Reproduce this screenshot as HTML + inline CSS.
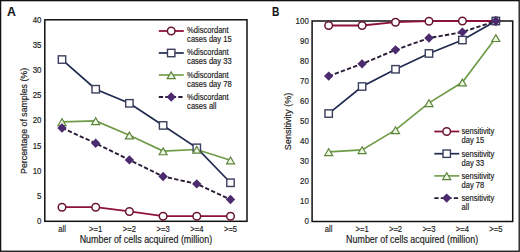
<!DOCTYPE html>
<html><head><meta charset="utf-8"><style>
html,body{margin:0;padding:0;background:#fff;}
svg{display:block;}
</style></head><body>
<svg width="520" height="252" viewBox="0 0 520 252">
<rect x="0" y="0" width="520" height="252" fill="#fff"/>
<rect x="0.6" y="0.65" width="518.6" height="250.6" fill="none" stroke="#111" stroke-width="1.3"/>
<text transform="translate(7.00,15.60)" font-size="12.3" font-weight="bold" fill="#111" font-family="Liberation Sans, sans-serif">A</text>
<text transform="translate(272.00,15.60) scale(0.85,1)" font-size="12.0" font-weight="bold" fill="#111" font-family="Liberation Sans, sans-serif">B</text>
<rect x="44.80" y="19.80" width="202.20" height="201.50" fill="none" stroke="#111" stroke-width="1.5"/>
<polyline points="62.00,207.22 95.70,207.22 129.40,211.44 163.10,216.22 196.80,216.22 230.50,216.22" fill="none" stroke="#8e1238" stroke-width="1.8"/>
<polyline points="62.00,121.91 95.70,120.90 129.40,135.24 163.10,151.08 196.80,149.57 230.50,160.14" fill="none" stroke="#6d9a45" stroke-width="1.6"/>
<polyline points="62.00,59.54 95.70,89.21 129.40,103.30 163.10,125.43 196.80,147.81 230.50,182.77" fill="none" stroke="#1f2a4e" stroke-width="1.7"/>
<polyline points="62.00,127.95 95.70,143.29 129.40,159.89 163.10,176.48 196.80,183.88 230.50,199.57" fill="none" stroke="#2a1b38" stroke-width="1.9" stroke-dasharray="4.3,2.2"/>
<circle cx="62.00" cy="207.22" r="3.8" fill="#fff" stroke="#6a1530" stroke-width="1.5"/>
<circle cx="95.70" cy="207.22" r="3.8" fill="#fff" stroke="#6a1530" stroke-width="1.5"/>
<circle cx="129.40" cy="211.44" r="3.8" fill="#fff" stroke="#6a1530" stroke-width="1.5"/>
<circle cx="163.10" cy="216.22" r="3.8" fill="#fff" stroke="#6a1530" stroke-width="1.5"/>
<circle cx="196.80" cy="216.22" r="3.8" fill="#fff" stroke="#6a1530" stroke-width="1.5"/>
<circle cx="230.50" cy="216.22" r="3.8" fill="#fff" stroke="#6a1530" stroke-width="1.5"/>
<rect x="58.30" y="55.84" width="7.40" height="7.40" fill="#fff" stroke="#3a3f5e" stroke-width="1.4"/>
<rect x="92.00" y="85.51" width="7.40" height="7.40" fill="#fff" stroke="#3a3f5e" stroke-width="1.4"/>
<rect x="125.70" y="99.60" width="7.40" height="7.40" fill="#fff" stroke="#3a3f5e" stroke-width="1.4"/>
<rect x="159.40" y="121.73" width="7.40" height="7.40" fill="#fff" stroke="#3a3f5e" stroke-width="1.4"/>
<rect x="193.10" y="144.11" width="7.40" height="7.40" fill="#fff" stroke="#3a3f5e" stroke-width="1.4"/>
<rect x="226.80" y="179.07" width="7.40" height="7.40" fill="#fff" stroke="#3a3f5e" stroke-width="1.4"/>
<polygon points="62.00,118.76 58.00,125.56 66.00,125.56" fill="#eef7e2" stroke="#5b833b" stroke-width="1.2"/>
<polygon points="95.70,117.75 91.70,124.55 99.70,124.55" fill="#eef7e2" stroke="#5b833b" stroke-width="1.2"/>
<polygon points="129.40,132.09 125.40,138.89 133.40,138.89" fill="#eef7e2" stroke="#5b833b" stroke-width="1.2"/>
<polygon points="163.10,147.93 159.10,154.73 167.10,154.73" fill="#eef7e2" stroke="#5b833b" stroke-width="1.2"/>
<polygon points="196.80,146.42 192.80,153.22 200.80,153.22" fill="#eef7e2" stroke="#5b833b" stroke-width="1.2"/>
<polygon points="230.50,156.99 226.50,163.79 234.50,163.79" fill="#eef7e2" stroke="#5b833b" stroke-width="1.2"/>
<polygon points="62.00,123.25 66.70,127.95 62.00,132.65 57.30,127.95" fill="#4b2a6e"/>
<polygon points="95.70,138.59 100.40,143.29 95.70,147.99 91.00,143.29" fill="#4b2a6e"/>
<polygon points="129.40,155.19 134.10,159.89 129.40,164.59 124.70,159.89" fill="#4b2a6e"/>
<polygon points="163.10,171.78 167.80,176.48 163.10,181.18 158.40,176.48" fill="#4b2a6e"/>
<polygon points="196.80,179.18 201.50,183.88 196.80,188.58 192.10,183.88" fill="#4b2a6e"/>
<polygon points="230.50,194.87 235.20,199.57 230.50,204.27 225.80,199.57" fill="#4b2a6e"/>
<text transform="translate(41.50,223.95) scale(0.89,1)" font-size="8.9" text-anchor="end" fill="#222" font-family="Liberation Sans, sans-serif" stroke="#222" stroke-width="0.18">0</text>
<text transform="translate(41.50,198.80) scale(0.89,1)" font-size="8.9" text-anchor="end" fill="#222" font-family="Liberation Sans, sans-serif" stroke="#222" stroke-width="0.18">5</text>
<text transform="translate(41.50,173.65) scale(0.89,1)" font-size="8.9" text-anchor="end" fill="#222" font-family="Liberation Sans, sans-serif" stroke="#222" stroke-width="0.18">10</text>
<text transform="translate(41.50,148.50) scale(0.89,1)" font-size="8.9" text-anchor="end" fill="#222" font-family="Liberation Sans, sans-serif" stroke="#222" stroke-width="0.18">15</text>
<text transform="translate(41.50,123.35) scale(0.89,1)" font-size="8.9" text-anchor="end" fill="#222" font-family="Liberation Sans, sans-serif" stroke="#222" stroke-width="0.18">20</text>
<text transform="translate(41.50,98.20) scale(0.89,1)" font-size="8.9" text-anchor="end" fill="#222" font-family="Liberation Sans, sans-serif" stroke="#222" stroke-width="0.18">25</text>
<text transform="translate(41.50,73.05) scale(0.89,1)" font-size="8.9" text-anchor="end" fill="#222" font-family="Liberation Sans, sans-serif" stroke="#222" stroke-width="0.18">30</text>
<text transform="translate(41.50,47.90) scale(0.89,1)" font-size="8.9" text-anchor="end" fill="#222" font-family="Liberation Sans, sans-serif" stroke="#222" stroke-width="0.18">35</text>
<text transform="translate(41.50,22.75) scale(0.89,1)" font-size="8.9" text-anchor="end" fill="#222" font-family="Liberation Sans, sans-serif" stroke="#222" stroke-width="0.18">40</text>
<text transform="translate(62.00,231.60) scale(0.89,1)" font-size="8.6" text-anchor="middle" fill="#222" font-family="Liberation Sans, sans-serif" stroke="#222" stroke-width="0.18">all</text>
<text transform="translate(95.70,231.60) scale(0.89,1)" font-size="8.6" text-anchor="middle" fill="#222" font-family="Liberation Sans, sans-serif" stroke="#222" stroke-width="0.18">&gt;=1</text>
<text transform="translate(129.40,231.60) scale(0.89,1)" font-size="8.6" text-anchor="middle" fill="#222" font-family="Liberation Sans, sans-serif" stroke="#222" stroke-width="0.18">&gt;=2</text>
<text transform="translate(163.10,231.60) scale(0.89,1)" font-size="8.6" text-anchor="middle" fill="#222" font-family="Liberation Sans, sans-serif" stroke="#222" stroke-width="0.18">&gt;=3</text>
<text transform="translate(196.80,231.60) scale(0.89,1)" font-size="8.6" text-anchor="middle" fill="#222" font-family="Liberation Sans, sans-serif" stroke="#222" stroke-width="0.18">&gt;=4</text>
<text transform="translate(230.50,231.60) scale(0.89,1)" font-size="8.6" text-anchor="middle" fill="#222" font-family="Liberation Sans, sans-serif" stroke="#222" stroke-width="0.18">&gt;=5</text>
<text x="145.90" y="243.2" font-size="10" text-anchor="middle" textLength="132.5" lengthAdjust="spacingAndGlyphs" fill="#222" font-family="Liberation Sans, sans-serif" stroke="#222" stroke-width="0.18">Number of cells acquired (million)</text>
<text transform="translate(26.70,120.90) rotate(-90)" font-size="9.8" text-anchor="middle" textLength="106" lengthAdjust="spacingAndGlyphs" fill="#222" font-family="Liberation Sans, sans-serif" stroke="#222" stroke-width="0.18">Percentage of samples (%)</text>
<line x1="158.80" y1="31.00" x2="183.80" y2="31.00" stroke="#8e1238" stroke-width="1.8"/>
<circle cx="171.20" cy="31.00" r="3.8" fill="#fff" stroke="#6a1530" stroke-width="1.5"/>
<text transform="translate(187.10,32.90) scale(0.89,1)" font-size="8.5" fill="#222" font-family="Liberation Sans, sans-serif" stroke="#222" stroke-width="0.18">%discordant</text>
<text transform="translate(187.10,41.90) scale(0.89,1)" font-size="8.5" fill="#222" font-family="Liberation Sans, sans-serif" stroke="#222" stroke-width="0.18">cases day 15</text>
<line x1="158.80" y1="53.00" x2="183.80" y2="53.00" stroke="#1f2a4e" stroke-width="1.7"/>
<rect x="167.50" y="49.30" width="7.40" height="7.40" fill="#fff" stroke="#3a3f5e" stroke-width="1.4"/>
<text transform="translate(187.10,55.30) scale(0.89,1)" font-size="8.5" fill="#222" font-family="Liberation Sans, sans-serif" stroke="#222" stroke-width="0.18">%discordant</text>
<text transform="translate(187.10,64.30) scale(0.89,1)" font-size="8.5" fill="#222" font-family="Liberation Sans, sans-serif" stroke="#222" stroke-width="0.18">cases day 33</text>
<line x1="158.80" y1="75.00" x2="183.80" y2="75.00" stroke="#6d9a45" stroke-width="1.6"/>
<polygon points="171.20,71.85 167.20,78.65 175.20,78.65" fill="#eef7e2" stroke="#5b833b" stroke-width="1.2"/>
<text transform="translate(187.10,77.70) scale(0.89,1)" font-size="8.5" fill="#222" font-family="Liberation Sans, sans-serif" stroke="#222" stroke-width="0.18">%discordant</text>
<text transform="translate(187.10,86.70) scale(0.89,1)" font-size="8.5" fill="#222" font-family="Liberation Sans, sans-serif" stroke="#222" stroke-width="0.18">cases day 78</text>
<line x1="158.80" y1="97.00" x2="183.80" y2="97.00" stroke="#2a1b38" stroke-width="1.9" stroke-dasharray="4.3,2.2"/>
<polygon points="171.20,92.30 175.90,97.00 171.20,101.70 166.50,97.00" fill="#4b2a6e"/>
<text transform="translate(187.10,100.10) scale(0.89,1)" font-size="8.5" fill="#222" font-family="Liberation Sans, sans-serif" stroke="#222" stroke-width="0.18">%discordant</text>
<text transform="translate(187.10,109.10) scale(0.89,1)" font-size="8.5" fill="#222" font-family="Liberation Sans, sans-serif" stroke="#222" stroke-width="0.18">cases all</text>
<rect x="312.10" y="21.00" width="200.60" height="200.50" fill="none" stroke="#111" stroke-width="1.5"/>
<polyline points="328.67,25.51 362.10,25.51 395.53,22.20 428.97,21.20 462.40,21.00 495.83,21.00" fill="none" stroke="#8e1238" stroke-width="1.8"/>
<polyline points="328.67,151.90 362.10,149.89 395.53,129.96 428.97,102.92 462.40,82.29 495.83,37.83" fill="none" stroke="#6d9a45" stroke-width="1.6"/>
<polyline points="328.67,113.54 362.10,86.50 395.53,69.27 428.97,53.45 462.40,40.03 495.83,21.00" fill="none" stroke="#1f2a4e" stroke-width="1.7"/>
<polyline points="328.67,76.08 362.10,63.86 395.53,49.84 428.97,38.03 462.40,32.12 495.83,21.00" fill="none" stroke="#2a1b38" stroke-width="1.9" stroke-dasharray="4.3,2.2"/>
<circle cx="328.67" cy="25.51" r="3.8" fill="#fff" stroke="#6a1530" stroke-width="1.5"/>
<circle cx="362.10" cy="25.51" r="3.8" fill="#fff" stroke="#6a1530" stroke-width="1.5"/>
<circle cx="395.53" cy="22.20" r="3.8" fill="#fff" stroke="#6a1530" stroke-width="1.5"/>
<circle cx="428.97" cy="21.20" r="3.8" fill="#fff" stroke="#6a1530" stroke-width="1.5"/>
<circle cx="462.40" cy="21.00" r="3.8" fill="#fff" stroke="#6a1530" stroke-width="1.5"/>
<circle cx="495.83" cy="21.00" r="3.8" fill="#fff" stroke="#6a1530" stroke-width="1.5"/>
<rect x="324.97" y="109.84" width="7.40" height="7.40" fill="#fff" stroke="#3a3f5e" stroke-width="1.4"/>
<rect x="358.40" y="82.80" width="7.40" height="7.40" fill="#fff" stroke="#3a3f5e" stroke-width="1.4"/>
<rect x="391.83" y="65.57" width="7.40" height="7.40" fill="#fff" stroke="#3a3f5e" stroke-width="1.4"/>
<rect x="425.27" y="49.75" width="7.40" height="7.40" fill="#fff" stroke="#3a3f5e" stroke-width="1.4"/>
<rect x="458.70" y="36.33" width="7.40" height="7.40" fill="#fff" stroke="#3a3f5e" stroke-width="1.4"/>
<rect x="492.13" y="17.30" width="7.40" height="7.40" fill="#fff" stroke="#3a3f5e" stroke-width="1.4"/>
<polygon points="328.67,148.75 324.67,155.55 332.67,155.55" fill="#eef7e2" stroke="#5b833b" stroke-width="1.2"/>
<polygon points="362.10,146.74 358.10,153.54 366.10,153.54" fill="#eef7e2" stroke="#5b833b" stroke-width="1.2"/>
<polygon points="395.53,126.81 391.53,133.61 399.53,133.61" fill="#eef7e2" stroke="#5b833b" stroke-width="1.2"/>
<polygon points="428.97,99.77 424.97,106.57 432.97,106.57" fill="#eef7e2" stroke="#5b833b" stroke-width="1.2"/>
<polygon points="462.40,79.14 458.40,85.94 466.40,85.94" fill="#eef7e2" stroke="#5b833b" stroke-width="1.2"/>
<polygon points="495.83,34.68 491.83,41.48 499.83,41.48" fill="#eef7e2" stroke="#5b833b" stroke-width="1.2"/>
<polygon points="328.67,71.38 333.37,76.08 328.67,80.78 323.97,76.08" fill="#4b2a6e"/>
<polygon points="362.10,59.16 366.80,63.86 362.10,68.56 357.40,63.86" fill="#4b2a6e"/>
<polygon points="395.53,45.14 400.23,49.84 395.53,54.54 390.83,49.84" fill="#4b2a6e"/>
<polygon points="428.97,33.33 433.67,38.03 428.97,42.73 424.27,38.03" fill="#4b2a6e"/>
<polygon points="462.40,27.42 467.10,32.12 462.40,36.82 457.70,32.12" fill="#4b2a6e"/>
<polygon points="495.83,16.30 500.53,21.00 495.83,25.70 491.13,21.00" fill="#4b2a6e"/>
<text transform="translate(308.80,224.25) scale(0.89,1)" font-size="8.9" text-anchor="end" fill="#222" font-family="Liberation Sans, sans-serif" stroke="#222" stroke-width="0.18">0</text>
<text transform="translate(308.80,204.22) scale(0.89,1)" font-size="8.9" text-anchor="end" fill="#222" font-family="Liberation Sans, sans-serif" stroke="#222" stroke-width="0.18">10</text>
<text transform="translate(308.80,184.19) scale(0.89,1)" font-size="8.9" text-anchor="end" fill="#222" font-family="Liberation Sans, sans-serif" stroke="#222" stroke-width="0.18">20</text>
<text transform="translate(308.80,164.16) scale(0.89,1)" font-size="8.9" text-anchor="end" fill="#222" font-family="Liberation Sans, sans-serif" stroke="#222" stroke-width="0.18">30</text>
<text transform="translate(308.80,144.13) scale(0.89,1)" font-size="8.9" text-anchor="end" fill="#222" font-family="Liberation Sans, sans-serif" stroke="#222" stroke-width="0.18">40</text>
<text transform="translate(308.80,124.10) scale(0.89,1)" font-size="8.9" text-anchor="end" fill="#222" font-family="Liberation Sans, sans-serif" stroke="#222" stroke-width="0.18">50</text>
<text transform="translate(308.80,104.07) scale(0.89,1)" font-size="8.9" text-anchor="end" fill="#222" font-family="Liberation Sans, sans-serif" stroke="#222" stroke-width="0.18">60</text>
<text transform="translate(308.80,84.04) scale(0.89,1)" font-size="8.9" text-anchor="end" fill="#222" font-family="Liberation Sans, sans-serif" stroke="#222" stroke-width="0.18">70</text>
<text transform="translate(308.80,64.01) scale(0.89,1)" font-size="8.9" text-anchor="end" fill="#222" font-family="Liberation Sans, sans-serif" stroke="#222" stroke-width="0.18">80</text>
<text transform="translate(308.80,43.98) scale(0.89,1)" font-size="8.9" text-anchor="end" fill="#222" font-family="Liberation Sans, sans-serif" stroke="#222" stroke-width="0.18">90</text>
<text transform="translate(308.80,23.95) scale(0.89,1)" font-size="8.9" text-anchor="end" fill="#222" font-family="Liberation Sans, sans-serif" stroke="#222" stroke-width="0.18">100</text>
<text transform="translate(328.67,231.60) scale(0.89,1)" font-size="8.6" text-anchor="middle" fill="#222" font-family="Liberation Sans, sans-serif" stroke="#222" stroke-width="0.18">all</text>
<text transform="translate(362.10,231.60) scale(0.89,1)" font-size="8.6" text-anchor="middle" fill="#222" font-family="Liberation Sans, sans-serif" stroke="#222" stroke-width="0.18">&gt;=1</text>
<text transform="translate(395.53,231.60) scale(0.89,1)" font-size="8.6" text-anchor="middle" fill="#222" font-family="Liberation Sans, sans-serif" stroke="#222" stroke-width="0.18">&gt;=2</text>
<text transform="translate(428.97,231.60) scale(0.89,1)" font-size="8.6" text-anchor="middle" fill="#222" font-family="Liberation Sans, sans-serif" stroke="#222" stroke-width="0.18">&gt;=3</text>
<text transform="translate(462.40,231.60) scale(0.89,1)" font-size="8.6" text-anchor="middle" fill="#222" font-family="Liberation Sans, sans-serif" stroke="#222" stroke-width="0.18">&gt;=4</text>
<text transform="translate(495.83,231.60) scale(0.89,1)" font-size="8.6" text-anchor="middle" fill="#222" font-family="Liberation Sans, sans-serif" stroke="#222" stroke-width="0.18">&gt;=5</text>
<text x="412.10" y="243.2" font-size="10" text-anchor="middle" textLength="132" lengthAdjust="spacingAndGlyphs" fill="#222" font-family="Liberation Sans, sans-serif" stroke="#222" stroke-width="0.18">Number of cells acquired (million)</text>
<text transform="translate(291.00,121.45) rotate(-90)" font-size="9.8" text-anchor="middle" textLength="57.5" lengthAdjust="spacingAndGlyphs" fill="#222" font-family="Liberation Sans, sans-serif" stroke="#222" stroke-width="0.18">Sensitivity (%)</text>
<line x1="434.30" y1="131.50" x2="459.30" y2="131.50" stroke="#8e1238" stroke-width="1.8"/>
<circle cx="446.70" cy="131.50" r="3.8" fill="#fff" stroke="#6a1530" stroke-width="1.5"/>
<text transform="translate(461.50,134.40) scale(0.89,1)" font-size="8.5" fill="#222" font-family="Liberation Sans, sans-serif" stroke="#222" stroke-width="0.18">sensitivity</text>
<text transform="translate(461.50,143.40) scale(0.89,1)" font-size="8.5" fill="#222" font-family="Liberation Sans, sans-serif" stroke="#222" stroke-width="0.18">day 15</text>
<line x1="434.30" y1="153.70" x2="459.30" y2="153.70" stroke="#1f2a4e" stroke-width="1.7"/>
<rect x="443.00" y="150.00" width="7.40" height="7.40" fill="#fff" stroke="#3a3f5e" stroke-width="1.4"/>
<text transform="translate(461.50,156.60) scale(0.89,1)" font-size="8.5" fill="#222" font-family="Liberation Sans, sans-serif" stroke="#222" stroke-width="0.18">sensitivity</text>
<text transform="translate(461.50,165.60) scale(0.89,1)" font-size="8.5" fill="#222" font-family="Liberation Sans, sans-serif" stroke="#222" stroke-width="0.18">day 33</text>
<line x1="434.30" y1="175.90" x2="459.30" y2="175.90" stroke="#6d9a45" stroke-width="1.6"/>
<polygon points="446.70,172.75 442.70,179.55 450.70,179.55" fill="#eef7e2" stroke="#5b833b" stroke-width="1.2"/>
<text transform="translate(461.50,178.80) scale(0.89,1)" font-size="8.5" fill="#222" font-family="Liberation Sans, sans-serif" stroke="#222" stroke-width="0.18">sensitivity</text>
<text transform="translate(461.50,187.80) scale(0.89,1)" font-size="8.5" fill="#222" font-family="Liberation Sans, sans-serif" stroke="#222" stroke-width="0.18">day 78</text>
<line x1="434.30" y1="198.10" x2="459.30" y2="198.10" stroke="#2a1b38" stroke-width="1.9" stroke-dasharray="4.3,2.2"/>
<polygon points="446.70,193.40 451.40,198.10 446.70,202.80 442.00,198.10" fill="#4b2a6e"/>
<text transform="translate(461.50,201.00) scale(0.89,1)" font-size="8.5" fill="#222" font-family="Liberation Sans, sans-serif" stroke="#222" stroke-width="0.18">sensitivity</text>
<text transform="translate(461.50,210.00) scale(0.89,1)" font-size="8.5" fill="#222" font-family="Liberation Sans, sans-serif" stroke="#222" stroke-width="0.18">all</text>
</svg>
</body></html>
